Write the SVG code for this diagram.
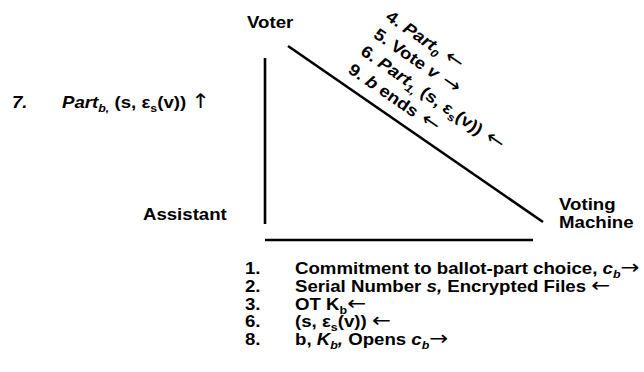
<svg xmlns="http://www.w3.org/2000/svg" width="644" height="372" viewBox="0 0 644 372">
<style>
text{font-family:"Liberation Sans","DejaVu Sans",Arial,sans-serif;font-weight:bold;font-size:16.5px;fill:#000}
.i{font-style:italic}
.sub{font-size:11px}
.ar{font-family:"DejaVu Sans",sans-serif;font-weight:normal;font-style:normal;font-size:20px}
.edge{stroke:#000;stroke-width:2.6;fill:none;stroke-linecap:butt}
</style>
<rect width="644" height="372" fill="#fff"/>
<g id="voter" transform="scale(1.13,1)"><text x="218.6" y="28">Voter</text></g>
<g id="assistant" transform="scale(1.13,1)"><text x="126.5" y="220">Assistant</text></g>
<g id="voting-machine" transform="scale(1.13,1)"><text x="494.7" y="210">Voting</text><text x="494.7" y="228">Machine</text></g>
<g id="connectors">
<line class="edge" x1="265" y1="58" x2="265" y2="224"/>
<line class="edge" x1="265" y1="240" x2="533" y2="240"/>
<line class="edge" x1="288" y1="46" x2="543" y2="222"/>
</g>
<g id="voter-machine-labels" transform="translate(288.3,46) rotate(34.6) scale(1.13,1)">
<text x="56.6" y="-77">4. <tspan class="i">Part</tspan><tspan class="i sub" dy="4">0</tspan><tspan class="ar" dy="-4"> ←</tspan></text>
<text x="56.6" y="-55.5">5. Vote <tspan class="i">v</tspan><tspan class="ar"> →</tspan></text>
<text x="55.8" y="-34">6. <tspan class="i">Part</tspan><tspan class="i sub" dy="4">1,</tspan><tspan dy="-4"> (s, ε</tspan><tspan class="sub" dy="4">s</tspan><tspan dy="-4">(v))</tspan><tspan class="ar">  ←</tspan></text>
<text x="55.8" y="-12">9. <tspan class="i">b</tspan> ends<tspan class="ar"> ←</tspan></text>
</g>
<g id="voter-assistant-label" transform="scale(1.13,1)">
<text x="10.6" y="108"><tspan class="i">7.</tspan><tspan class="i" x="54.9">Part</tspan><tspan class="i sub" dy="4">b,</tspan><tspan dy="-4"> (s, ε</tspan><tspan class="sub" dy="4">s</tspan><tspan dy="-4">(v)) </tspan><tspan class="ar">↑</tspan></text>
</g>
<g id="assistant-machine-labels" transform="scale(1.13,1)">
<text x="216.8" y="274.5">1.<tspan x="261.1">Commitment to ballot-part choice, </tspan><tspan class="i">c</tspan><tspan class="i sub" dy="4">b</tspan><tspan class="ar" dy="-4">→</tspan></text>
<text x="216.8" y="292.5">2.<tspan x="261.1">Serial Number </tspan><tspan class="i">s,</tspan> Encrypted Files <tspan class="ar">←</tspan></text>
<text x="216.8" y="310">3.<tspan x="261.1">OT K</tspan><tspan class="sub" dy="4">b</tspan><tspan class="ar" dy="-4">←</tspan></text>
<text x="216.8" y="327.5">6.<tspan x="261.1">(s, ε</tspan><tspan class="sub" dy="4">s</tspan><tspan dy="-4">(v)) </tspan><tspan class="ar">←</tspan></text>
<text x="216.8" y="345.5">8.<tspan x="261.1">b, </tspan><tspan class="i">K</tspan><tspan class="i sub" dy="4">b</tspan><tspan class="i" dy="-4">,</tspan> Opens <tspan class="i">c</tspan><tspan class="i sub" dy="4">b</tspan><tspan class="ar" dy="-4">→</tspan></text>
</g>
</svg>
